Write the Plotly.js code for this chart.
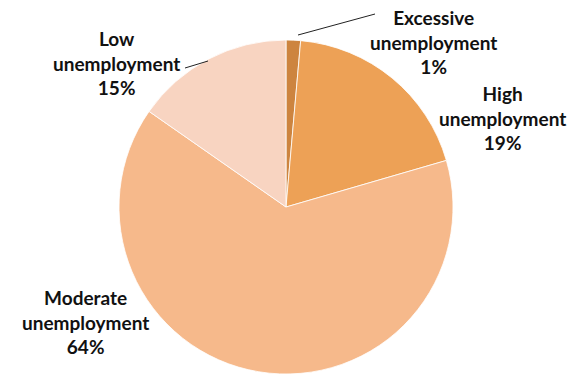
<!DOCTYPE html>
<html>
<head>
<meta charset="utf-8">
<script src="https://cdn.plot.ly/plotly-3.0.1.min.js"></script>
<style>html,body{margin:0;padding:0;background:#fff}#chart{width:573px;height:376px}</style>
</head>
<body>
<div id="chart"></div>
<script>
const categories = ["Excessive unemployment", "High unemployment", "Moderate unemployment", "Low unemployment"];
const labelLines = [["Excessive", "unemployment"], ["High", "unemployment"], ["Moderate", "unemployment"], ["Low", "unemployment"]];
const shares = [1.4, 19.1, 64.2, 15.3];
const shareLabels = ["1%", "19%", "64%", "15%"];
const colors = ["#CD843F", "#EDA156", "#F6B98B", "#F8D4C1"];

const labelPos = [
  {x: 433, y: 42},
  {x: 502, y: 118},
  {x: 85, y: 322},
  {x: 116, y: 63}
];
const W = 573, H = 376;

const annotations = categories.map((c, i) => ({
  xref: 'paper', yref: 'paper',
  x: labelPos[i].x / W, y: 1 - labelPos[i].y / H,
  xanchor: 'center', yanchor: 'middle',
  text: '<b>' + labelLines[i].concat([shareLabels[i]]).join('<br>') + '</b>',
  showarrow: false, align: 'center',
  font: {family: 'Lato, sans-serif', size: 19, color: '#111111'}
}));

const shapes = [
  {type: 'line', xref: 'paper', yref: 'paper', x0: 298 / W, y0: 1 - 35 / H, x1: 375 / W, y1: 1 - 14 / H, line: {color: '#222', width: 1}},
  {type: 'line', xref: 'paper', yref: 'paper', x0: 185 / W, y0: 1 - 68 / H, x1: 208 / W, y1: 1 - 61 / H, line: {color: '#222', width: 1}}
];

const data = [{
  type: 'pie',
  labels: categories,
  values: shares,
  sort: false,
  direction: 'clockwise',
  rotation: 0,
  textinfo: 'none',
  hoverinfo: 'label+percent',
  marker: {colors: colors, line: {color: '#ffffff', width: 0.8}},
  domain: {x: [119 / W, 453 / W], y: [2 / H, 336 / H]},
  showlegend: false
}];

const layout = {
  width: W, height: H,
  margin: {l: 0, r: 0, t: 0, b: 0},
  paper_bgcolor: '#ffffff',
  annotations: annotations,
  shapes: shapes,
  showlegend: false
};

Plotly.newPlot('chart', data, layout, {displayModeBar: false, staticPlot: true});
</script>
</body>
</html>
